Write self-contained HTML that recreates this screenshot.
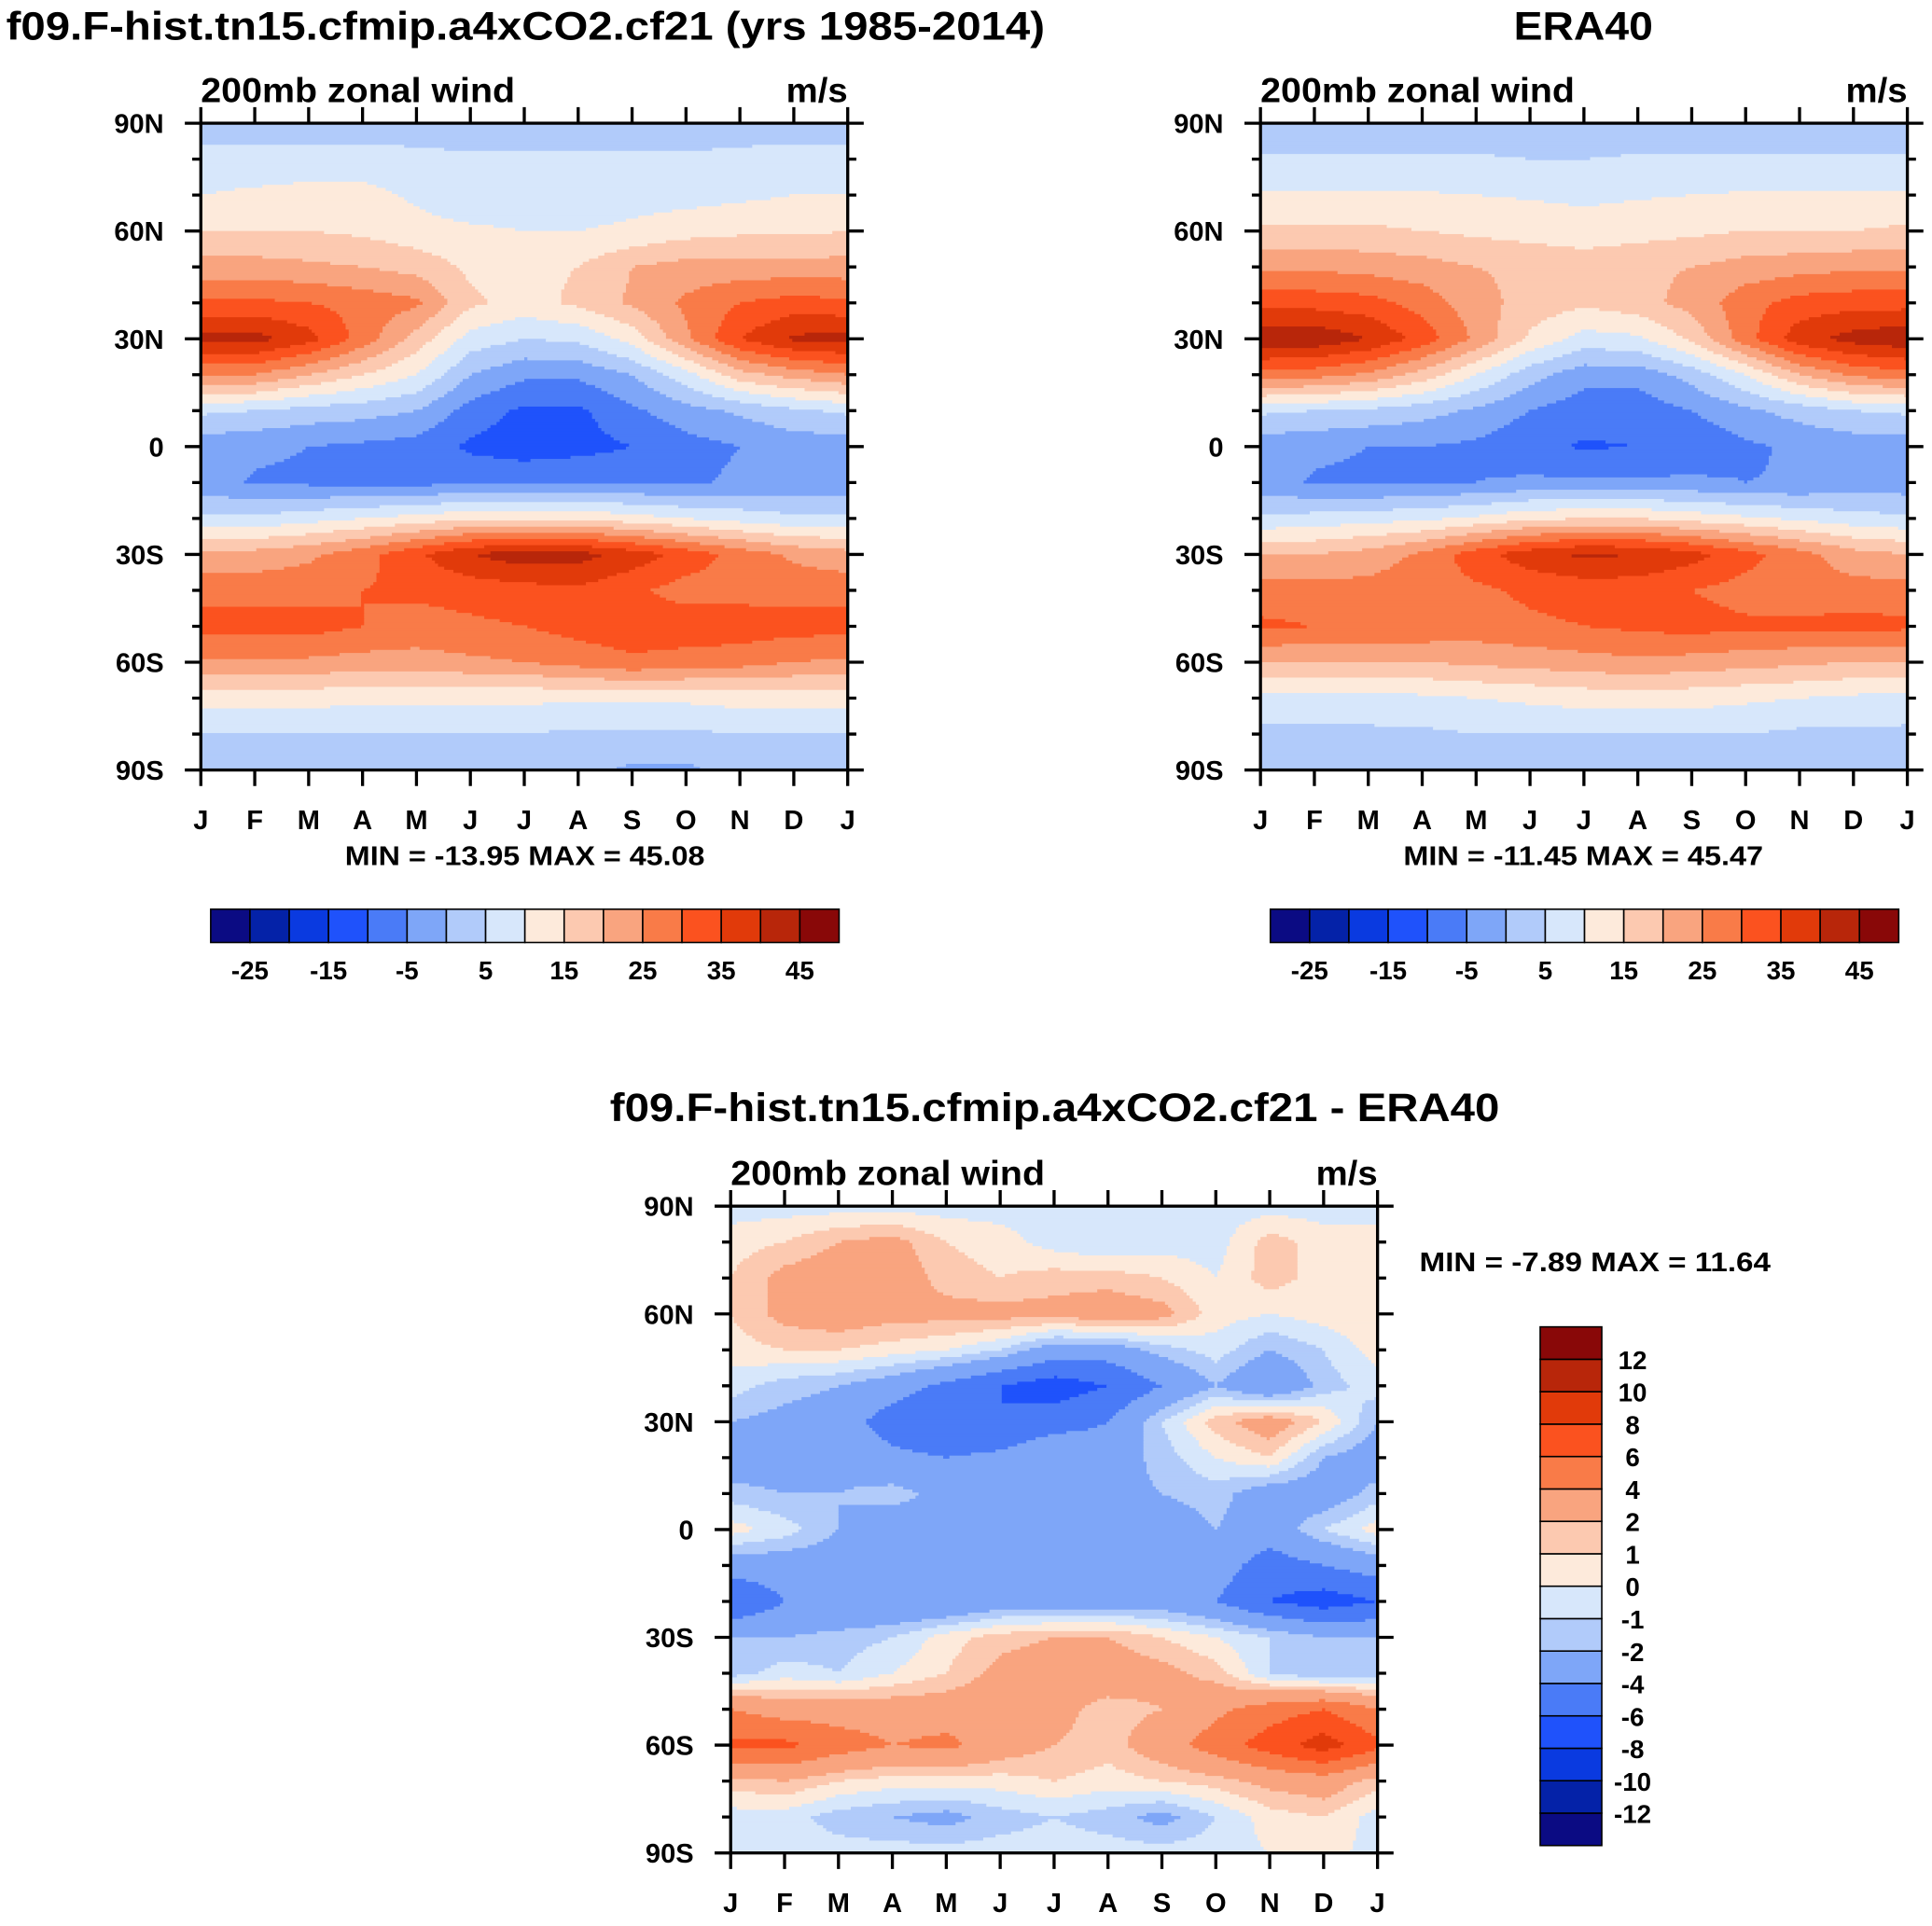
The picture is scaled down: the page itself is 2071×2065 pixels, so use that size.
<!DOCTYPE html>
<html><head><meta charset="utf-8"><style>
html,body{margin:0;padding:0;background:#fff;overflow:hidden}
#wrap{width:1568px;height:1558px;transform:scale(1.32079,1.32092);transform-origin:0 0;position:absolute;left:0;top:0}
text{font-family:"Liberation Sans",sans-serif;font-weight:bold;fill:#000}
</style></head><body>
<div id="wrap">
<svg id="svg" width="1568" height="1558" xmlns="http://www.w3.org/2000/svg"></svg>
</div>
<script>
const months=["J","F","M","A","M","J","J","A","S","O","N","D","J"];
const lats=[90,80,70,60,50,40,30,20,10,0,-10,-20,-30,-40,-50,-60,-70,-80,-90];
const latLabels=["90N","60N","30N","0","30S","60S","90S"];
const absLevels=[-25,-20,-15,-10,-5,0,5,10,15,20,25,30,35,40,45];
const absLabels=["-25","-15","-5","5","15","25","35","45"];
const diffLevels=[-12,-10,-8,-6,-4,-2,-1,0,1,2,4,6,8,10,12];
const colors=["#0b0b83","#0422a8","#0a3ae0","#1f52fb","#4a7bf7","#7ea6f8","#b1cbfa","#d7e7fb","#fdeadb","#fcc9b0","#f9a47f","#f97b48","#fb521f","#e13a0a","#b8260a","#890808"];
const modelVals=[
[3,3,3,3,3,3,3,3,3,3,3,3],
[6.5,6.5,6.5,6.5,6,5.5,5.5,5.5,5.5,5.5,6,6.5],
[10,11,12,12,9,6,6,7,8,8,9,10],
[15,15,15,14,12,11,10,10,11,13,14,14],
[22,22,21,20,18,14,14,15,20,22,22,22],
[31,31,30,28,26,16,13,16,21,26,30,32],
[42,42,37,28,18,8,5,6,12,24,35,41],
[25,25,20,15,10,0,-4,-4,0,8,18,22],
[6,5,3,2,0,-7,-11,-11,-6,-2,1,4],
[-3,-4,-5,-6,-7,-11,-13,-12,-10,-7,-5,-3],
[-3,-5.5,-6,-6.5,-6.5,-6,-5.5,-5,-5.5,-6,-4,-3],
[6,6,8,10,12,14,14,14,12,10,8,6],
[22,22,24,28,34,40,43,42,38,33,28,24],
[28,28,28,30,31,32,33,34,31,28,28,28],
[32,32,32,30,28,29,30,32,33,33,33,32],
[24,24,24,23,23,24,25,27,29,28,27,25],
[12,12,12,11,11,11,11,11,11,11,12,12],
[5,5,5,5,5,5,5,4,4,4,5,5],
[3,3,3,3,3,3,3,2,-1,-1,2,3]];
const eraVals=[
[2,2,2,2,2,2,2,2,2,2,2,2],
[5.5,5.5,5.5,5.5,5.5,5,5,5.5,5.5,5.5,5.5,5.5],
[10.5,10.5,10.5,10.5,10,9.5,9,9.5,10,10.5,10.5,10.5],
[16,16,16,15,14,13,12,13,14,15,15,15],
[24,24,23,22,20,19,18,19,20,22,23,24],
[33,33,32,28,22,18,16,18,22,28,32,33],
[44,44,40,33,24,14,8,9,16,28,38,42],
[28,27,24,18,10,2,-3,-3,2,10,20,26],
[6,5,4,2,-1,-5,-8,-8,-5,-1,2,5],
[-3,-4,-5,-5,-6,-9,-10.5,-10,-9,-6,-4,-3],
[-3,-5.5,-6,-5.5,-5,-4,-4,-4,-4,-5,-4.5,-3],
[6,7,8,9,11,14,15,15,13,11,9,7],
[20,20,22,26,33,38,41,40,37,32,27,22],
[27,27,27,28,29,31,32,32,30,28,27,27],
[31,30,30,29,28,29,30,31,32,31,31,32],
[20,20,20,20,21,22,23,24,23,22,21,20],
[8,8,8,9,10,11,12,12,12,11,10,9],
[4,4,4,4,5,5,5,5,5,5,4,4],
[1,1,1,1,1,1,1,1,1,1,1,1]];
const diffVals=[
[-0.5,-0.5,-0.5,-0.5,-0.5,-0.5,-0.5,-1,-0.5,-0.5,-0.5,-0.5],
[0.5,1,2,2.5,1,0.5,-0.5,-1,-0.5,-0.5,1.5,0.5],
[1,2.5,3,3,1.5,1,1.5,1.5,1,0,1.5,0.5],
[1,2.5,3,2.5,2.5,2.5,2.5,3,2.5,0.5,0,0.5],
[0.5,1,1,0.5,0,-1,-3,-3,-1.5,-0.5,-2,-1],
[-0.5,-1.5,-2,-3,-4.5,-6,-7,-6,-4,-2,-4,-1.5],
[-2,-2.5,-3,-5,-6,-6,-5,-4,-1,1.5,3,1],
[-3,-3,-2.5,-3.5,-4,-3.5,-2,-3,-1.5,0,1,-2],
[-1.5,-2,-2,-1.5,-2.5,-3,-2.5,-2.5,-2,-1.5,-3,-3],
[0.5,-0.5,-2,-3,-2.5,-2.5,-3,-3.5,-3,-2,-3,-1],
[-3,-3,-3,-3.5,-3,-3,-3,-3.5,-3,-3,-5,-4],
[-6,-4,-4,-4,-4,-3,-3,-3,-3,-4,-6,-7],
[-2,-2,-1.5,-1,0.5,1.5,2,2,1,0,-1,-2],
[-1.5,-0.5,-1,0,1,2.5,3,3,2.5,1.5,-1,-2],
[4,3,3,3,3,3,2.5,1.5,2,3.5,5,6],
[6.5,6.5,5,4,4.5,3,2,1.5,3,5,7,9],
[1.5,2,1,0.5,0.5,0.5,1,0.5,1,1.5,2.5,3],
[-0.5,-0.5,-1.5,-2,-2.5,-1.5,-1,-1.5,-2.5,-1,0.5,1],
[-0.5,-0.5,-0.5,-0.5,-0.5,-0.5,-0.5,-0.5,-0.5,-0.5,0,0.5]];

const NS="http://www.w3.org/2000/svg";
const svg=document.getElementById('svg');
function mk(tag,attrs,parent){const e=document.createElementNS(NS,tag);for(const k in attrs)e.setAttribute(k,attrs[k]);(parent||svg).appendChild(e);return e;}
function txt(s,x,y,size,anchor,parent,len){const a={x:x,y:y,'font-size':size,'text-anchor':anchor||'start'};if(len){a.textLength=len;a.lengthAdjust='spacingAndGlyphs';}const t=mk('text',a,parent);t.textContent=s;return t;}
function colorIdx(v,levels){let i=0;while(i<levels.length&&v>=levels[i])i++;return i;}
function sample(vals,fx,fy){
  let c0=Math.floor(fx),c1=c0+1,tx=fx-c0;if(c0>=12){c0=12;c1=12;tx=0;}
  let r0=Math.floor(fy),r1=Math.min(r0+1,18),ty=fy-r0;
  const g=(r,c)=>vals[r][c%12];
  const a=g(r0,c0)*(1-tx)+g(r0,c1)*tx, b=g(r1,c0)*(1-tx)+g(r1,c1)*tx;
  return a*(1-ty)+b*ty;
}
function panel(name,x0,y0,vals,levels){
  const W=525,H=525;
  const g=mk('g',{},svg);
  
  
  const xs=m=>x0+m*W/12, ys=lat=>y0+(90-lat)*H/180;
  const step=2.5,n=Math.round(W/step);
  for(let j=0;j<n;j++){
    const fy=(j+0.5)/n*18;
    let runStart=0,runC=null;
    for(let i=0;i<=n;i++){
      let c=null;
      if(i<n){const fx=(i+0.5)/n*12;c=colorIdx(sample(vals,fx,fy),levels);}
      if(c!==runC){
        if(runC!==null){const r=mk('rect',{x:x0+runStart*step,y:y0+j*step,width:(i-runStart)*step+0.6,height:step+0.6,fill:colors[runC]},g);
          
          }
        runStart=i;runC=c;
      }
    }
  }
  const f=mk('rect',{x:x0,y:y0,width:W,height:H,fill:'none',stroke:'#000','stroke-width':2.5},g);
  
  
  let d='';
  for(let m=0;m<=12;m++){const x=xs(m);d+=`M${x},${y0}v-13M${x},${y0+H}v13`;}
  for(let lat=90;lat>=-90;lat-=10){const y=ys(lat);const L=lat%30===0?13:7;d+=`M${x0},${y}h-${L}M${x0+W},${y}h${L}`;}
  const t=mk('path',{d:d,stroke:'#000','stroke-width':2.5,fill:'none'},g);
  
  
  months.forEach((m,i)=>{const e=txt(m,xs(i),y0+H+48,22,'middle',g);
    
    });
  latLabels.forEach((l,i)=>{const e=txt(l,x0-30,ys(90-30*i)+8,22,'end',g);
    
    });
  const s1=txt('200mb zonal wind',x0,y0-17,28,'start',g,255);
  
  
  const s2=txt('m/s',x0+W,y0-17,28,'end',g,50);
  
  
  return g;
}
function hbar(name,x0,y0,labels){
  const g=mk('g',{},svg);
  
  
  const bw=510/16;
  colors.forEach((c,i)=>{const r=mk('rect',{x:x0+i*bw,y:y0,width:bw,height:27,fill:c,stroke:'#000','stroke-width':1.2},g);
    
    });
  labels.forEach((l,k)=>{const e=txt(l,x0+(1+2*k)*bw,y0+57,21,'middle',g);
    
    });
}
panel('model-panel',163,100,modelVals,absLevels);
panel('era40-panel',1023,100,eraVals,absLevels);
panel('difference-panel',593,979,diffVals,diffLevels);
let e;
e=txt('f09.F-hist.tn15.cfmip.a4xCO2.cf21 (yrs 1985-2014)',5,32,32,'start',null,843);


e=txt('ERA40',1285,32,32,'middle',null,113);


e=txt('f09.F-hist.tn15.cfmip.a4xCO2.cf21 - ERA40',856,910,32,'middle',null,722);


e=txt('MIN = -13.95 MAX =  45.08',426,702,22,'middle',null,292);


e=txt('MIN = -11.45 MAX =  45.47',1285,702,22,'middle',null,292);


e=txt('MIN =  -7.89 MAX =  11.64',1152,1032,22,'start',null,285);


hbar('model-colorbar',171,738,absLabels);
hbar('era40-colorbar',1031,738,absLabels);
const vg=mk('g',{},svg);


const bh=421/16;
colors.forEach((c,i)=>{const r=mk('rect',{x:1250,y:1077+(15-i)*bh,width:50,height:bh,fill:c,stroke:'#000','stroke-width':1.2},vg);
  
  });
diffLevels.forEach((l,i)=>{const y=1077+(15-i)*bh;const t=txt(String(l),1325,y+8,21,'middle',vg);
  
  });
</script>
</body></html>
